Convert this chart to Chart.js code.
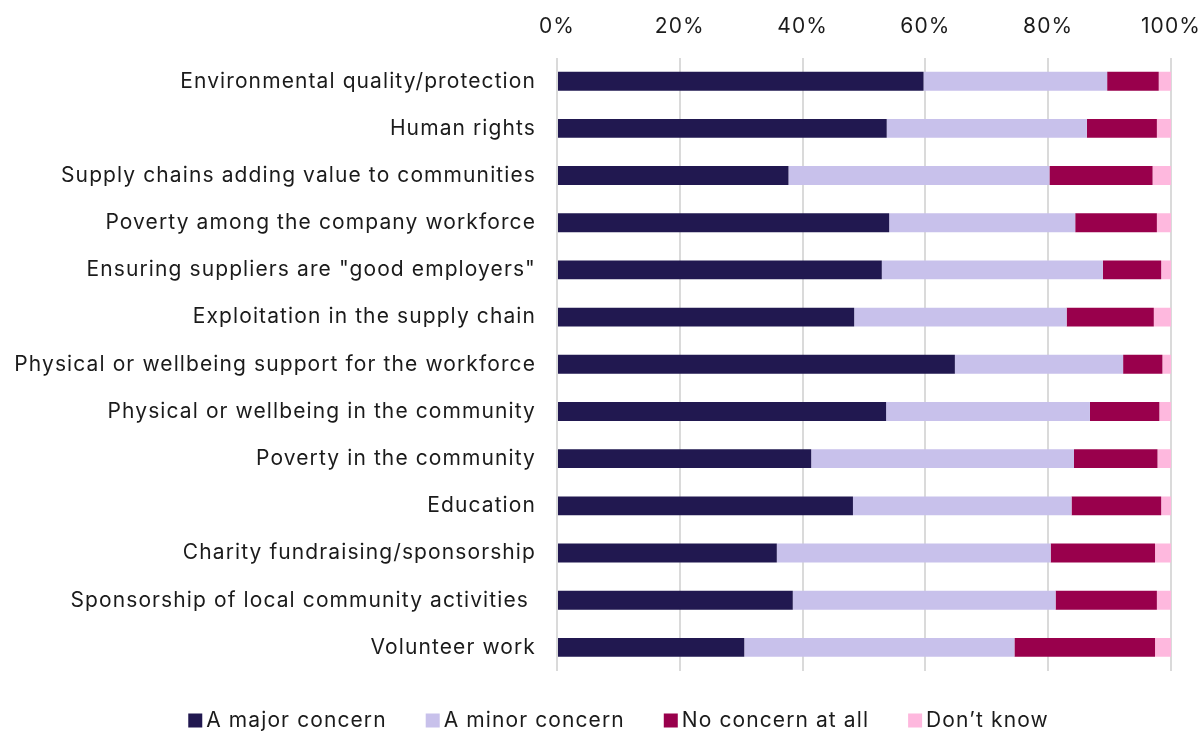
<!DOCTYPE html>
<html>
<head>
<meta charset="utf-8">
<script src="https://cdn.jsdelivr.net/npm/chart.js@4.4.1/dist/chart.umd.min.js"></script>
<style>
  html, body { margin: 0; padding: 0; background: #ffffff; }
  #wrap { width: 1203px; height: 733px; }
</style>
</head>
<body>
<div id="wrap"><canvas id="chart" width="1203" height="733"></canvas></div>
<script>
const categories = [
  'Environmental quality/protection',
  'Human rights',
  'Supply chains adding value to communities',
  'Poverty among the company workforce',
  'Ensuring suppliers are "good employers"',
  'Exploitation in the supply chain',
  'Physical or wellbeing support for the workforce',
  'Physical or wellbeing in the community',
  'Poverty in the community',
  'Education',
  'Charity fundraising/sponsorship',
  'Sponsorship of local community activities ',
  'Volunteer work'
];

const majorConcern = [59.7, 53.7, 37.7, 54.1, 52.9, 48.4, 64.8, 53.6, 41.4, 48.2, 35.8, 38.4, 30.5];
const minorConcern = [29.9, 32.6, 42.5, 30.3, 36.0, 34.6, 27.4, 33.2, 42.8, 35.6, 44.6, 42.8, 44.0];
const noConcern    = [8.4, 11.4, 16.8, 13.3, 9.5, 14.2, 6.4, 11.3, 13.6, 14.6, 17.0, 16.5, 22.9];
const dontKnow     = [2.0, 2.3, 3.0, 2.3, 1.6, 2.8, 1.4, 1.9, 2.2, 1.6, 2.6, 2.3, 2.6];

const seriesNames = ['A major concern', 'A minor concern', 'No concern at all', 'Don\u2019t know'];
const seriesColors = ['#211850', '#c8c1eb', '#99004c', '#feb8de'];
const tickValues = [0, 20, 40, 60, 80, 100];

const FONT = 'Inter, "Liberation Sans", Arial, sans-serif';
const FONT_SIZE = 21;
const TRACKING = '1.1px';
const TEXT = '#1b1b1b';

const seriesValues = [majorConcern, minorConcern, noConcern, dontKnow];

// Slightly opened letter spacing for all canvas text
const tracking = {
  id: 'tracking',
  beforeUpdate(chart) { chart.ctx.letterSpacing = TRACKING; },
  beforeDraw(chart) { chart.ctx.letterSpacing = TRACKING; }
};

// Single-row legend under the plot: small square swatch, tight gap, then the name
const rowLegend = {
  id: 'rowLegend',
  afterDraw(chart) {
    const ctx = chart.ctx;
    const box = 14, gap = 4, spacing = 39;
    ctx.save();
    ctx.letterSpacing = TRACKING;
    ctx.font = FONT_SIZE + 'px ' + FONT;
    ctx.textBaseline = 'middle';
    ctx.textAlign = 'left';
    const items = chart.data.datasets.map(ds => ({
      text: ds.label,
      color: ds.backgroundColor,
      w: ctx.measureText(ds.label).width
    }));
    const total = items.reduce((s, it) => s + box + gap + it.w, 0) + spacing * (items.length - 1);
    let x = chart.width / 2 + 17 - total / 2;
    const cy = chart.height - 12.5;
    items.forEach(it => {
      ctx.fillStyle = it.color;
      ctx.fillRect(x, cy - box / 2, box, box);
      x += box + gap;
      ctx.fillStyle = TEXT;
      ctx.fillText(it.text, x, cy);
      x += it.w + spacing;
    });
    ctx.restore();
  }
};

new Chart(document.getElementById('chart'), {
  type: 'bar',
  data: {
    labels: categories,
    datasets: seriesNames.map((name, i) => ({
      label: name,
      data: seriesValues[i],
      backgroundColor: seriesColors[i],
      borderWidth: 0,
      barPercentage: 0.8,
      categoryPercentage: 0.5
    }))
  },
  options: {
    indexAxis: 'y',
    responsive: false,
    animation: false,
    layout: { padding: { top: 0, right: 0, bottom: 62, left: 0 } },
    scales: {
      x: {
        position: 'top',
        stacked: true,
        min: 0,
        max: 100,
        afterBuildTicks: (scale) => { scale.ticks = tickValues.map(v => ({ value: v })); },
        afterFit: (scale) => { scale.height = 57.6; scale.paddingRight = 32; },
        ticks: {
          callback: (v) => v + '%',
          font: { family: FONT, size: FONT_SIZE },
          color: TEXT,
          padding: 18.6,
          maxRotation: 0
        },
        grid: { color: '#dadada', lineWidth: 2, drawTicks: false },
        border: { display: false }
      },
      y: {
        stacked: true,
        afterFit: (scale) => { scale.width = 557; },
        ticks: {
          font: { family: FONT, size: FONT_SIZE },
          color: TEXT,
          padding: 21
        },
        grid: { display: false, drawTicks: false },
        border: { display: false }
      }
    },
    plugins: {
      legend: { display: false },
      tooltip: { enabled: false }
    }
  },
  plugins: [tracking, rowLegend]
});
</script>
</body>
</html>
